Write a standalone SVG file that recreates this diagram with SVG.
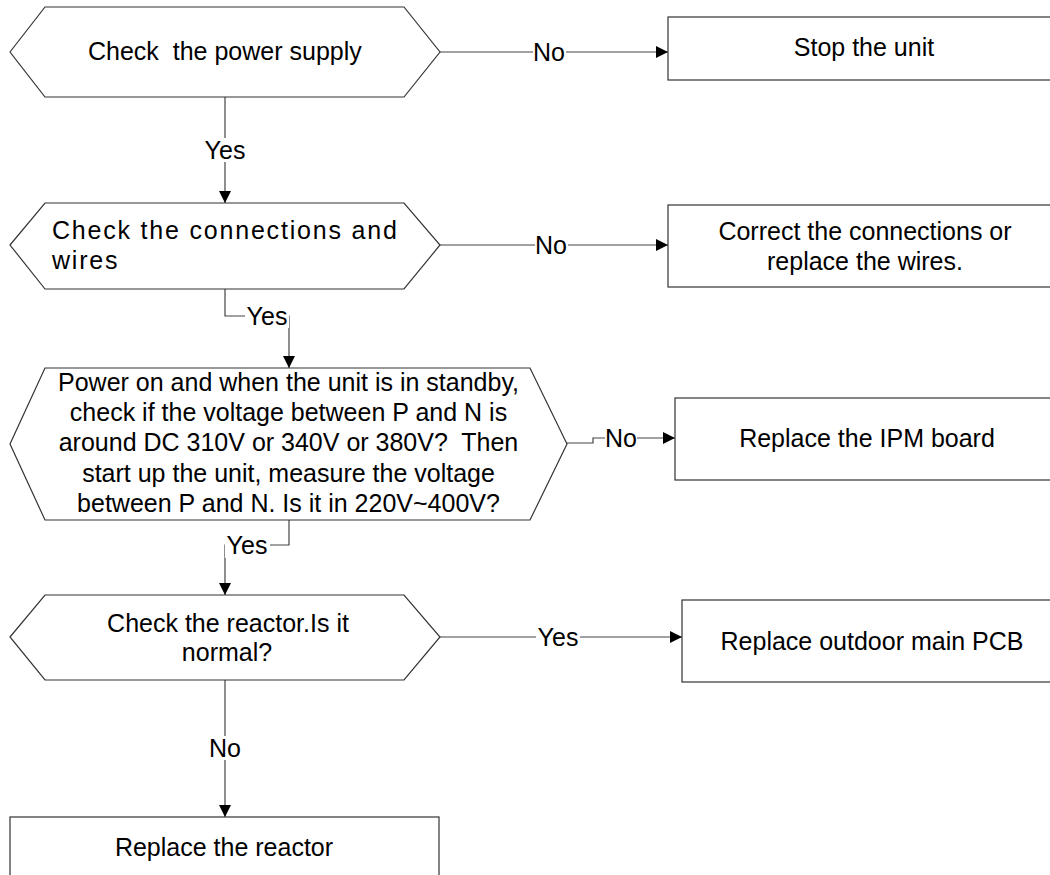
<svg xmlns="http://www.w3.org/2000/svg" width="1050" height="875" viewBox="0 0 1050 875">
<defs>
<style>
text{font-family:"Liberation Sans",Arial,sans-serif;font-size:25px;fill:#000;white-space:pre}
.shape{fill:#fff;stroke:#333;stroke-width:1.2}
.conn{fill:none;stroke:#444;stroke-width:1.2}
.lbg{fill:#fff;stroke:none}
.c{text-anchor:middle}
</style>
<marker id="arr" markerUnits="userSpaceOnUse" markerWidth="12" markerHeight="12" refX="12" refY="6" orient="auto">
<path d="M0,0 L12,6 L0,12 z" fill="#000"/>
</marker>
</defs>
<rect width="1050" height="875" fill="#fff"/>

<g id="connectors">
<path class="conn" d="M440,52 H668" marker-end="url(#arr)"/>
<path class="conn" d="M225,97 V203" marker-end="url(#arr)"/>
<path class="conn" d="M440,245 H668" marker-end="url(#arr)"/>
<path class="conn" d="M225,289 V316 H289 V368" marker-end="url(#arr)"/>
<path class="conn" d="M567,443 H593 V438 H675" marker-end="url(#arr)"/>
<path class="conn" d="M289,520 V545 H225 V595" marker-end="url(#arr)"/>
<path class="conn" d="M440,637 H682" marker-end="url(#arr)"/>
<path class="conn" d="M225,680 V817" marker-end="url(#arr)"/>
<rect class="lbg" x="533" y="40" width="33" height="24"/>
<text class="c" x="549" y="61">No</text>
<rect class="lbg" x="203" y="138" width="45" height="24"/>
<text class="c" x="225" y="159">Yes</text>
<rect class="lbg" x="535" y="233" width="33" height="24"/>
<text class="c" x="551" y="254">No</text>
<rect class="lbg" x="245" y="304" width="44" height="24"/>
<text class="c" x="267" y="325">Yes</text>
<rect class="lbg" x="605" y="426" width="32" height="24"/>
<text class="c" x="621" y="447">No</text>
<rect class="lbg" x="225" y="533" width="45" height="25"/>
<text class="c" x="247" y="554">Yes</text>
<rect class="lbg" x="536" y="625" width="44" height="24"/>
<text class="c" x="558" y="646">Yes</text>
<rect class="lbg" x="208" y="736" width="34" height="24"/>
<text class="c" x="225" y="757">No</text>
</g>

<g id="n1">
<polygon class="shape" points="10,52 45,7 404,7 440,52 404,97 45,97"/>
<text x="88" y="60">Check  the power supply</text>
</g>
<g id="n2">
<rect class="shape" x="668" y="17" width="400" height="63"/>
<text class="c" x="864" y="56">Stop the unit</text>
</g>
<g id="n3">
<polygon class="shape" points="10,245 45,203 404,203 440,245 404,289 45,289"/>
<text x="52" y="239" letter-spacing="1.8">Check the connections and</text>
<text x="52" y="269" letter-spacing="1.8">wires</text>
</g>
<g id="n4">
<rect class="shape" x="668" y="205" width="400" height="82"/>
<text class="c" x="865" y="240">Correct the connections or</text>
<text class="c" x="865" y="270">replace the wires.</text>
</g>
<g id="n5">
<polygon class="shape" points="10,444 45,368 530,368 567,444 530,520 45,520"/>
<text class="c" x="288.5" y="391">Power on and when the unit is in standby,</text>
<text class="c" x="288.5" y="421">check if the voltage between P and N is</text>
<text class="c" x="288.5" y="451">around DC 310V or 340V or 380V?  Then</text>
<text class="c" x="288.5" y="482">start up the unit, measure the voltage</text>
<text class="c" x="288.5" y="512">between P and N. Is it in 220V~400V?</text>
</g>
<g id="n6">
<rect class="shape" x="675" y="398" width="400" height="82"/>
<text class="c" x="867" y="447">Replace the IPM board</text>
</g>
<g id="n7">
<polygon class="shape" points="10,637 45,595 404,595 440,637 404,680 45,680"/>
<text class="c" x="228" y="632">Check the reactor.Is it</text>
<text class="c" x="227" y="661">normal?</text>
</g>
<g id="n8">
<rect class="shape" x="682" y="600" width="400" height="82"/>
<text class="c" x="872" y="650">Replace outdoor main PCB</text>
</g>
<g id="n9">
<rect class="shape" x="10" y="817" width="429" height="80"/>
<text class="c" x="224" y="856">Replace the reactor</text>
</g>
</svg>
